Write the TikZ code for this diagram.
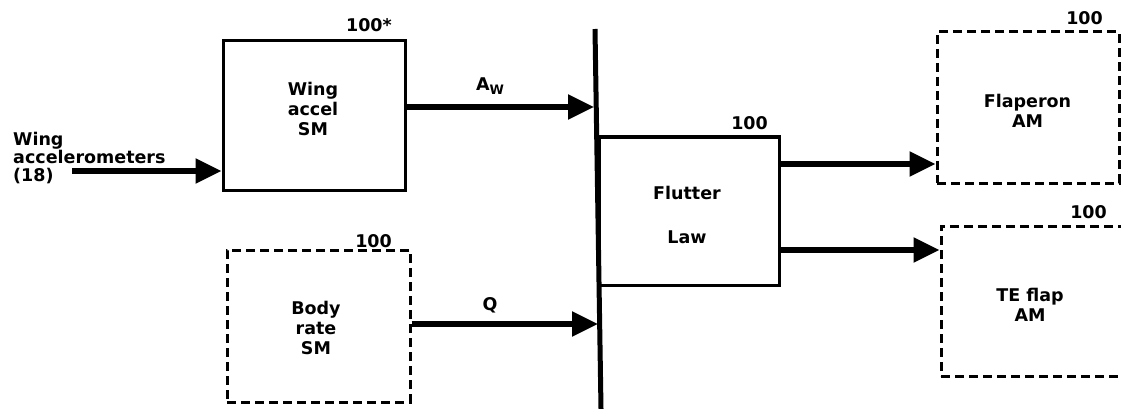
\documentclass[tikz,border=0pt]{standalone}
\usepackage{fontspec}
\setmainfont{DejaVu Sans}
\usetikzlibrary{arrows.meta}
\begin{document}
\begin{tikzpicture}[x=1pt,y=-1pt,
  box/.style={draw, line width=3pt, inner sep=0pt},
  dbox/.style={box, dash pattern=on 9pt off 5pt},
  txt/.style={font=\fontsize{17.5}{20}\selectfont\bfseries, align=center, inner sep=0pt},
  num/.style={font=\fontsize{17.5}{20}\selectfont\bfseries, inner sep=0pt, anchor=base east},
  sig/.style={line width=5.5pt, -{Triangle[length=26pt,width=24pt]}},
]
\useasboundingbox (0,0) rectangle (1121,409);
% boxes
\node[box,  minimum width=182pt, minimum height=149pt] (wing) at (314,115.5) {};
\node[dbox, minimum width=183pt, minimum height=152pt] (body) at (318.5,326) {};
\node[box,  minimum width=180pt, minimum height=148pt] (flutter) at (689,211) {};
\node[dbox, minimum width=182pt, minimum height=151pt] (flap) at (1028,107.5) {};
\node[dbox, minimum width=186pt, minimum height=150pt] (te) at (1034,301) {};
% box texts
\node[txt] (wingt) at (313,108.5) {Wing\\accel\\SM};
\node[txt] (bodyt) at (316,328) {Body\\rate\\SM};
\node[txt, font=\fontsize{17.5}{44}\selectfont\bfseries] (fluttert) at (687,215) {Flutter\\Law};
\node[txt] (flapt) at (1027.5,110.5) {Flaperon\\AM};
\node[txt] (tet) at (1030,304.5) {TE flap\\AM};
% numbers
\node[num] (n1) at (392,32) {100*};
\node[num] (n2) at (392,247) {100};
\node[num] (n3) at (768,130) {100};
\node[num] (n4) at (1103,25) {100};
\node[num] (n5) at (1107,218) {100};
% input label
\node[txt, align=left, anchor=north west, font=\fontsize{17.5}{18}\selectfont\bfseries] (wacc) at (13,132) {Wing\\accelerometers\\(18)};
% bar
\coordinate (bartop) at (595,29);
\coordinate (barbot) at (601,409);
\draw[line width=5pt] (bartop) -- (barbot);
% signal labels
\node[font=\fontsize{17.5}{20}\selectfont\bfseries, inner sep=0pt, anchor=base] (aw) at (490,91) {A\raisebox{-0.35ex}{\fontsize{13}{13}\selectfont\bfseries W}};
\node[font=\fontsize{17.5}{20}\selectfont\bfseries, inner sep=0pt, anchor=base] (q) at (490,310) {Q};
% connectors
\coordinate (win) at (72,171);
\coordinate (awin) at (594,107);
\coordinate (qin) at (598,324);
\coordinate (o1) at (0,164);
\coordinate (o2) at (0,250);
\draw[sig] (win) -- (win -| wing.west);
\draw[sig] (wing.east |- awin) -- (awin);
\draw[sig] (body.east |- qin) -- (qin);
\draw[sig] (flutter.east |- o1) -- (flap.west |- o1);
\draw[sig] (flutter.east |- o2) -- (te.west |- o2);
\end{tikzpicture}
\end{document}
